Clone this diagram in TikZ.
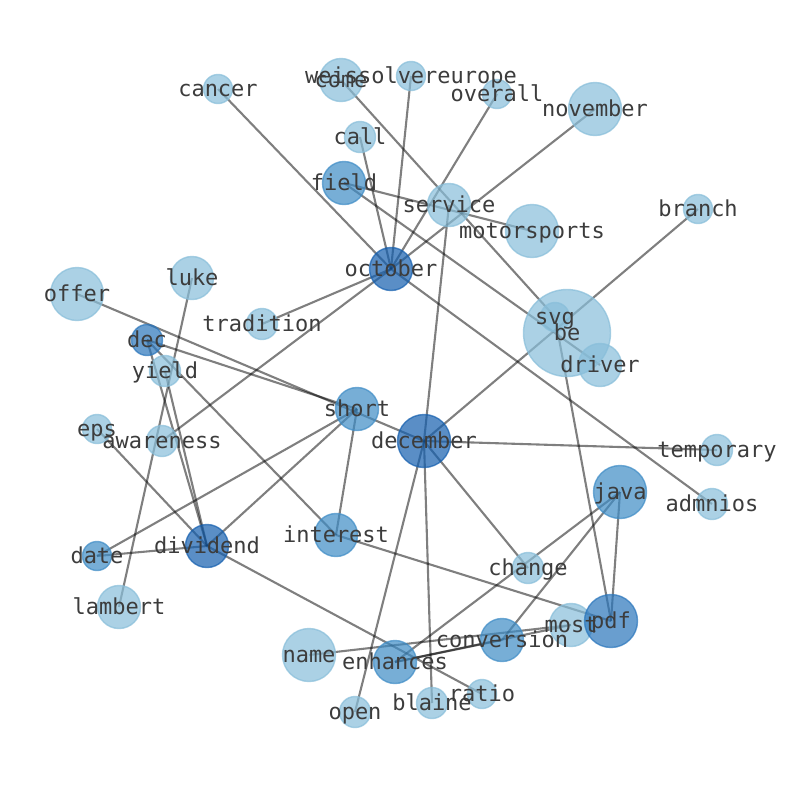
\documentclass[tikz,border=0pt]{standalone}
\usepackage{fontspec}
\newfontfamily\lblfont{DejaVu Sans Mono}
\pgfdeclarelayer{bg}
\pgfsetlayers{bg,main}
\definecolor{lightc}{RGB}{136,190,218}
\definecolor{medc}{RGB}{62,140,198}
\definecolor{mdkc}{RGB}{42,118,188}
\definecolor{darkc}{RGB}{20,95,175}
\definecolor{txtc}{RGB}{60,60,60}
\tikzset{
  vtx/.style={circle, inner sep=0pt, fill opacity=0.7, draw opacity=0.7, line width=1.4pt},
  lt/.style={vtx, fill=lightc, draw=lightc},
  md/.style={vtx, fill=medc, draw=medc},
  mk/.style={vtx, fill=mdkc, draw=mdkc},
  dk/.style={vtx, fill=darkc, draw=darkc},
  edge/.style={draw=black, draw opacity=0.5, line width=2.1pt},
  lbl/.style={font=\lblfont\fontsize{22}{22}\selectfont, text=txtc, text height=16.7pt, text depth=4.6pt, inner sep=0pt, yshift=-1.2pt}
}
\begin{document}
\begin{tikzpicture}[x=1pt,y=-1pt]
\useasboundingbox (0,0) rectangle (794,790);
\begin{pgfonlayer}{bg}
\fill[white] (0,0) rectangle (794,790);
\end{pgfonlayer}
% nodes (circles)
\node[lt, minimum size=29pt] (cancer) at (218,89) {};
\node[lt, minimum size=43pt] (come) at (341,80) {};
\node[lt, minimum size=29pt] (weis) at (411,76) {};
\node[lt, minimum size=29pt] (overall) at (497,94) {};
\node[lt, minimum size=53pt] (november) at (595,109) {};
\node[lt, minimum size=31pt] (call) at (360,137) {};
\node[md, minimum size=43pt] (field) at (344,183) {};
\node[lt, minimum size=43pt] (service) at (449,205) {};
\node[lt, minimum size=53pt] (motorsports) at (532,231) {};
\node[lt, minimum size=29pt] (branch) at (698,209) {};
\node[dk, minimum size=43pt] (october) at (391,269) {};
\node[lt, minimum size=43pt] (luke) at (192,278) {};
\node[lt, minimum size=53pt] (offer) at (77,294) {};
\node[lt, minimum size=31pt] (tradition) at (262,324) {};
\node[lt, minimum size=87pt] (be) at (567,333) {};
\node[lt, minimum size=29pt] (svg) at (555,317) {};
\node[lt, minimum size=43pt] (driver) at (600,365) {};
\node[mk, minimum size=31pt] (dec) at (147,340) {};
\node[lt, minimum size=31pt] (yield) at (165,371) {};
\node[md, minimum size=43pt] (short) at (357,409) {};
\node[dk, minimum size=53pt] (december) at (424,441) {};
\node[lt, minimum size=29pt] (eps) at (97,429) {};
\node[lt, minimum size=31pt] (awareness) at (162,441) {};
\node[lt, minimum size=31pt] (temporary) at (717,450) {};
\node[md, minimum size=53pt] (java) at (620,492) {};
\node[lt, minimum size=31pt] (admnios) at (712,504) {};
\node[md, minimum size=43pt] (interest) at (336,535) {};
\node[dk, minimum size=43pt] (dividend) at (207,546) {};
\node[md, minimum size=29pt] (date) at (97,556) {};
\node[lt, minimum size=31pt] (change) at (528,568) {};
\node[lt, minimum size=43pt] (lambert) at (119,607) {};
\node[lt, minimum size=43pt] (most) at (571,625) {};
\node[mk, minimum size=53pt] (pdf) at (611,621) {};
\node[md, minimum size=43pt] (conversion) at (502,640) {};
\node[lt, minimum size=53pt] (name) at (309,655) {};
\node[md, minimum size=43pt] (enhances) at (395,662) {};
\node[lt, minimum size=29pt] (ratio) at (482,694) {};
\node[lt, minimum size=31pt] (blaine) at (432,703) {};
\node[lt, minimum size=31pt] (open) at (355,712) {};
% edges
\begin{pgfonlayer}{bg}
\draw[edge] (cancer.center) -- (october.center);
\draw[edge] (call.center) -- (october.center);
\draw[edge] (weis.center) -- (october.center);
\draw[edge] (overall.center) -- (october.center);
\draw[edge] (november.center) -- (october.center);
\draw[edge] (october.center) -- (tradition.center);
\draw[edge] (october.center) -- (awareness.center);
\draw[edge] (october.center) -- (admnios.center);
\draw[edge] (come.center) -- (svg.center);
\draw[edge] (field.center) -- (motorsports.center);
\draw[edge] (field.center) -- (driver.center);
\draw[edge] (service.center) -- (december.center);
\draw[edge] (branch.center) -- (december.center);
\draw[edge] (svg.center) -- (pdf.center);
\draw[edge] (december.center) -- (temporary.center);
\draw[edge] (offer.center) -- (december.center);
\draw[edge] (dec.center) -- (short.center);
\draw[edge] (dec.center) -- (dividend.center);
\draw[edge] (dec.center) -- (interest.center);
\draw[edge] (yield.center) -- (dividend.center);
\draw[edge] (luke.center) -- (lambert.center);
\draw[edge] (eps.center) -- (dividend.center);
\draw[edge] (short.center) -- (date.center);
\draw[edge] (short.center) -- (dividend.center);
\draw[edge] (short.center) -- (interest.center);
\draw[edge] (date.center) -- (dividend.center);
\draw[edge] (dividend.center) -- (ratio.center);
\draw[edge] (interest.center) -- (pdf.center);
\draw[edge] (december.center) -- (change.center);
\draw[edge] (december.center) -- (open.center);
\draw[edge] (december.center) -- (blaine.center);
\draw[edge] (java.center) -- (enhances.center);
\draw[edge] (java.center) -- (conversion.center);
\draw[edge] (java.center) -- (pdf.center);
\draw[edge] (name.center) -- (most.center);
\draw[edge] (enhances.center) -- (most.center);
\draw[edge] (enhances.center) -- (conversion.center);
\end{pgfonlayer}
% labels
\node[lbl] (t-cancer) at (cancer.center) {cancer};
\node[lbl] (t-come) at (come.center) {come};
\node[lbl] (t-weis) at (weis.center) {weissolvereurope};
\node[lbl] (t-overall) at (overall.center) {overall};
\node[lbl] (t-november) at (november.center) {november};
\node[lbl] (t-call) at (call.center) {call};
\node[lbl] (t-field) at (field.center) {field};
\node[lbl] (t-service) at (service.center) {service};
\node[lbl] (t-motorsports) at (motorsports.center) {motorsports};
\node[lbl] (t-branch) at (branch.center) {branch};
\node[lbl] (t-october) at (october.center) {october};
\node[lbl] (t-luke) at (luke.center) {luke};
\node[lbl] (t-offer) at (offer.center) {offer};
\node[lbl] (t-tradition) at (tradition.center) {tradition};
\node[lbl] (t-be) at (be.center) {be};
\node[lbl] (t-svg) at (svg.center) {svg};
\node[lbl] (t-driver) at (driver.center) {driver};
\node[lbl] (t-dec) at (dec.center) {dec};
\node[lbl] (t-yield) at (yield.center) {yield};
\node[lbl] (t-short) at (short.center) {short};
\node[lbl] (t-december) at (december.center) {december};
\node[lbl] (t-eps) at (eps.center) {eps};
\node[lbl] (t-awareness) at (awareness.center) {awareness};
\node[lbl] (t-temporary) at (temporary.center) {temporary};
\node[lbl] (t-java) at (java.center) {java};
\node[lbl] (t-admnios) at (admnios.center) {admnios};
\node[lbl] (t-interest) at (interest.center) {interest};
\node[lbl] (t-dividend) at (dividend.center) {dividend};
\node[lbl] (t-date) at (date.center) {date};
\node[lbl] (t-change) at (change.center) {change};
\node[lbl] (t-lambert) at (lambert.center) {lambert};
\node[lbl] (t-most) at (most.center) {most};
\node[lbl] (t-pdf) at (pdf.center) {pdf};
\node[lbl] (t-conversion) at (conversion.center) {conversion};
\node[lbl] (t-name) at (name.center) {name};
\node[lbl] (t-enhances) at (enhances.center) {enhances};
\node[lbl] (t-ratio) at (ratio.center) {ratio};
\node[lbl] (t-blaine) at (blaine.center) {blaine};
\node[lbl] (t-open) at (open.center) {open};
\end{tikzpicture}
\end{document}
